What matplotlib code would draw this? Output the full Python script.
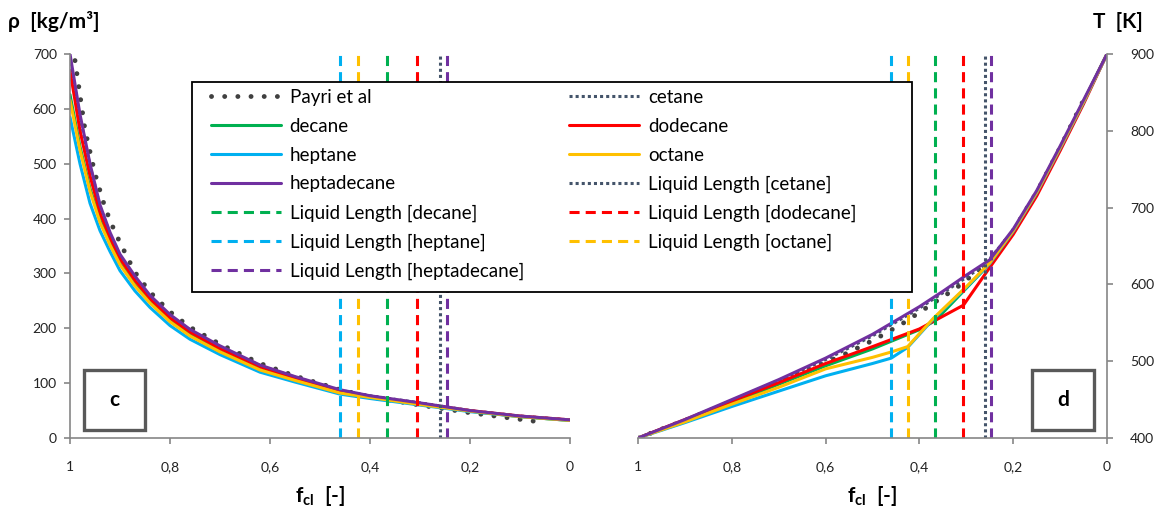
import matplotlib.pyplot as plt
from matplotlib.patches import Rectangle

plt.rcParams['font.family'] = ['Lato', 'DejaVu Sans']
plt.rcParams['mathtext.fontset'] = 'custom'
plt.rcParams['mathtext.rm'] = 'Lato'
plt.rcParams['mathtext.bf'] = 'Lato:bold'

# ---- data ----
# panel c: density vs f_cl
f_rho = [1, 0.98, 0.96, 0.94, 0.92, 0.9, 0.87, 0.84, 0.8, 0.76, 0.7, 0.62, 0.55, 0.46, 0.4, 0.3, 0.2, 0.1, 0]
rho_heptane = [585, 500, 428, 378, 340, 305, 268, 238, 205, 180, 152, 120, 102, 80, 72, 60, 48, 39, 32]
rho_octane = [616, 525, 450, 393, 352, 316, 277, 246, 212, 186, 157, 124, 105, 82, 74, 61, 49, 39, 32]
rho_decane = [626, 531, 455, 397, 355, 318, 279, 248, 214, 188, 158, 125, 106, 83, 74, 62, 49, 39, 32]
rho_dodecane = [670, 560, 478, 410, 365, 327, 287, 254, 219, 193, 163, 130, 109, 86, 76, 63, 50, 40, 33]
rho_cetane = [695, 585, 497, 422, 372, 332, 292, 258, 223, 197, 166, 132, 111, 87, 77, 64, 50, 40, 33]
rho_heptadecane = [700, 590, 500, 425, 375, 335, 295, 260, 225, 198, 168, 133, 112, 88, 77, 64, 50, 40, 33]
f_rho_payri = [0.99, 0.97, 0.95, 0.93, 0.91, 0.89, 0.87, 0.84, 0.8, 0.76, 0.7, 0.62, 0.55, 0.46, 0.4, 0.3, 0.2, 0.1, 0.05]
rho_payri = [688, 562, 482, 420, 375, 338, 302, 266, 230, 202, 171, 136, 113, 88, 75, 60, 46, 34, 28]

# panel d: temperature vs f_cl (kink at each liquid length)
f_T_heptane = [1, 0.9, 0.8, 0.7, 0.6, 0.5, 0.46, 0.425, 0.37, 0.3, 0.25, 0.2, 0.15, 0.1, 0.05, 0]
T_heptane = [400, 420, 441, 461, 481, 497, 504, 518, 555, 596, 627, 669, 719, 777, 837, 900]
f_T_octane = [1, 0.9, 0.8, 0.7, 0.6, 0.5, 0.46, 0.425, 0.37, 0.3, 0.25, 0.2, 0.15, 0.1, 0.05, 0]
T_octane = [400, 421, 444, 466, 490, 505, 512, 519, 556, 597, 628, 670, 720, 778, 838, 900]
f_T_decane = [1, 0.9, 0.8, 0.7, 0.6, 0.5, 0.4, 0.366, 0.3, 0.25, 0.2, 0.15, 0.1, 0.05, 0]
T_decane = [400, 423, 446, 470, 494, 516, 541, 553, 595, 627, 670, 720, 778, 838, 900]
f_T_dodecane = [1, 0.9, 0.8, 0.7, 0.6, 0.5, 0.4, 0.306, 0.25, 0.2, 0.15, 0.1, 0.05, 0]
T_dodecane = [400, 424, 448, 472, 497, 519, 542, 573, 622, 665, 715, 774, 835, 900]
f_T_cetane = [1, 0.9, 0.8, 0.7, 0.6, 0.5, 0.4, 0.35, 0.3, 0.26, 0.2, 0.15, 0.1, 0.05, 0]
T_cetane = [400, 423, 449, 475, 502, 533, 569, 589, 609, 626, 670, 720, 778, 838, 900]
f_T_heptadecane = [1, 0.9, 0.8, 0.7, 0.6, 0.5, 0.4, 0.35, 0.3, 0.25, 0.2, 0.15, 0.1, 0.05, 0]
T_heptadecane = [400, 424, 450, 476, 504, 535, 571, 591, 612, 632, 672, 722, 780, 840, 900]
f_T_payri = [1, 0.9, 0.8, 0.7, 0.62, 0.556, 0.496, 0.436, 0.379, 0.322, 0.25, 0.2, 0.15, 0.1, 0.05]
T_payri = [400, 423, 448, 472, 493, 510, 528, 549, 572, 595, 630, 670, 720, 778, 840]

# liquid length positions (f_cl)
ll_cetane = 0.26
ll_decane = 0.366
ll_dodecane = 0.306
ll_heptane = 0.46
ll_octane = 0.425
ll_heptadecane = 0.247

x_ticks = [1, 0.8, 0.6, 0.4, 0.2, 0]
x_tick_labels = ['1', '0,8', '0,6', '0,4', '0,2', '0']
rho_ticks = [0, 100, 200, 300, 400, 500, 600, 700]
T_ticks = [400, 500, 600, 700, 800, 900]

# colours
c_green = '#00B050'
c_red = '#FF0000'
c_blue = '#00B0F0'
c_orange = '#FFC000'
c_purple = '#7030A0'
c_slate = '#44546A'
c_dots = '#404040'
c_axis = '#868686'

W, H = 1162, 517
fig = plt.figure(figsize=(W / 100, H / 100), dpi=100)
axL = fig.add_axes([70 / W, 79 / H, 500 / W, 384 / H])
axR = fig.add_axes([638 / W, 79 / H, 469 / W, 384 / H])

lw = 2.2
dots = dict(color=c_dots, lw=3.5, linestyle=(0, (0.01, 2.7)), dash_capstyle='round')
dotted = dict(color=c_slate, lw=lw, linestyle=(0, (1, 1)))
dash = (0, (3.3, 2))


def draw(ax, fp, yp, curves, ylim):
    h = []
    h += ax.plot(fp, yp, label='Payri et al', **dots)
    for (fx, yy, col, name) in curves:
        if col == c_slate:
            h += ax.plot(fx, yy, label=name, **dotted)
        else:
            h += ax.plot(fx, yy, color=col, lw=lw, label=name, solid_capstyle='round')
    h.append(ax.axvline(ll_cetane, color=c_slate, lw=lw, linestyle=(0, (1, 1)), label='Liquid Length [cetane]'))
    h.append(ax.axvline(ll_decane, color=c_green, lw=lw, linestyle=dash, label='Liquid Length [decane]'))
    h.append(ax.axvline(ll_dodecane, color=c_red, lw=lw, linestyle=dash, label='Liquid Length [dodecane]'))
    h.append(ax.axvline(ll_heptane, color=c_blue, lw=lw, linestyle=dash, label='Liquid Length [heptane]'))
    h.append(ax.axvline(ll_octane, color=c_orange, lw=lw, linestyle=dash, label='Liquid Length [octane]'))
    h.append(ax.axvline(ll_heptadecane, color=c_purple, lw=lw, linestyle=dash, label='Liquid Length [heptadecane]'))
    ax.set_xlim(1, 0)
    ax.set_ylim(*ylim)
    ax.set_xticks(x_ticks)
    ax.set_xticklabels(x_tick_labels)
    return h


handles = draw(axL, f_rho_payri, rho_payri, [
    (f_rho, rho_cetane, c_slate, 'cetane'),
    (f_rho, rho_decane, c_green, 'decane'),
    (f_rho, rho_dodecane, c_red, 'dodecane'),
    (f_rho, rho_heptane, c_blue, 'heptane'),
    (f_rho, rho_octane, c_orange, 'octane'),
    (f_rho, rho_heptadecane, c_purple, 'heptadecane'),
], (0, 700))

draw(axR, f_T_payri, T_payri, [
    (f_T_cetane, T_cetane, c_slate, 'cetane'),
    (f_T_decane, T_decane, c_green, 'decane'),
    (f_T_dodecane, T_dodecane, c_red, 'dodecane'),
    (f_T_heptane, T_heptane, c_blue, 'heptane'),
    (f_T_octane, T_octane, c_orange, 'octane'),
    (f_T_heptadecane, T_heptadecane, c_purple, 'heptadecane'),
], (400, 900))

axL.set_yticks(rho_ticks)
axR.set_yticks(T_ticks)
axR.yaxis.tick_right()

for ax, side in ((axL, 'left'), (axR, 'right')):
    for s in ax.spines.values():
        s.set_visible(False)
    for s in ('bottom', side):
        ax.spines[s].set_visible(True)
        ax.spines[s].set_color(c_axis)
        ax.spines[s].set_linewidth(1.2)
    ax.tick_params(direction='out', length=4.5, width=1.2, color=c_axis,
                   labelsize=10, labelcolor='#222222')
    ax.tick_params(axis='x', pad=12)
    ax.set_xlabel(r'f$_{\mathbf{cl}}$  [-]', fontsize=15, fontweight='bold', labelpad=8)
axL.tick_params(axis='y', pad=5)
axR.tick_params(axis='y', pad=12)

# panel letters
for ax, x0, x1, txt in ((axL, 0.028, 0.15, 'c'), (axR, 0.84, 0.972, 'd')):
    ax.add_patch(Rectangle((x0, 0.02), x1 - x0, 0.157, transform=ax.transAxes,
                           facecolor='white', edgecolor='#595959', lw=2.4, zorder=5))
    ax.text((x0 + x1) / 2, 0.0985, txt, transform=ax.transAxes, ha='center', va='center',
            fontsize=15, fontweight='bold', zorder=6)

fig.text(8 / W, 1 - 22 / H, r'ρ  [kg/m³]', fontsize=15, fontweight='bold', va='center', ha='left')
fig.text(1143 / W, 1 - 22 / H, 'T  [K]', fontsize=15, fontweight='bold', va='center', ha='right')

# legend frame (white box over both panels)
fig.add_artist(Rectangle((192 / W, 1 - 292 / H), 720 / W, 210 / H, transform=fig.transFigure,
                         facecolor='white', edgecolor='black', lw=1.3))

# legend laid out row-wise like the original (two columns)
order = [0, 2, 4, 6, 8, 10, 12, 1, 3, 5, 7, 9, 11]
hs = [handles[i] for i in order]
leg = fig.legend(hs, [h.get_label() for h in hs], loc='upper left', ncol=2,
                 bbox_to_anchor=(211 / W, 1 - 89 / H),
                 fontsize=13.5, frameon=False,
                 handlelength=3.75, handletextpad=0.45, labelspacing=0.63, borderpad=0,
                 columnspacing=2.4, borderaxespad=0)

fig.savefig('out.png', dpi=100)
